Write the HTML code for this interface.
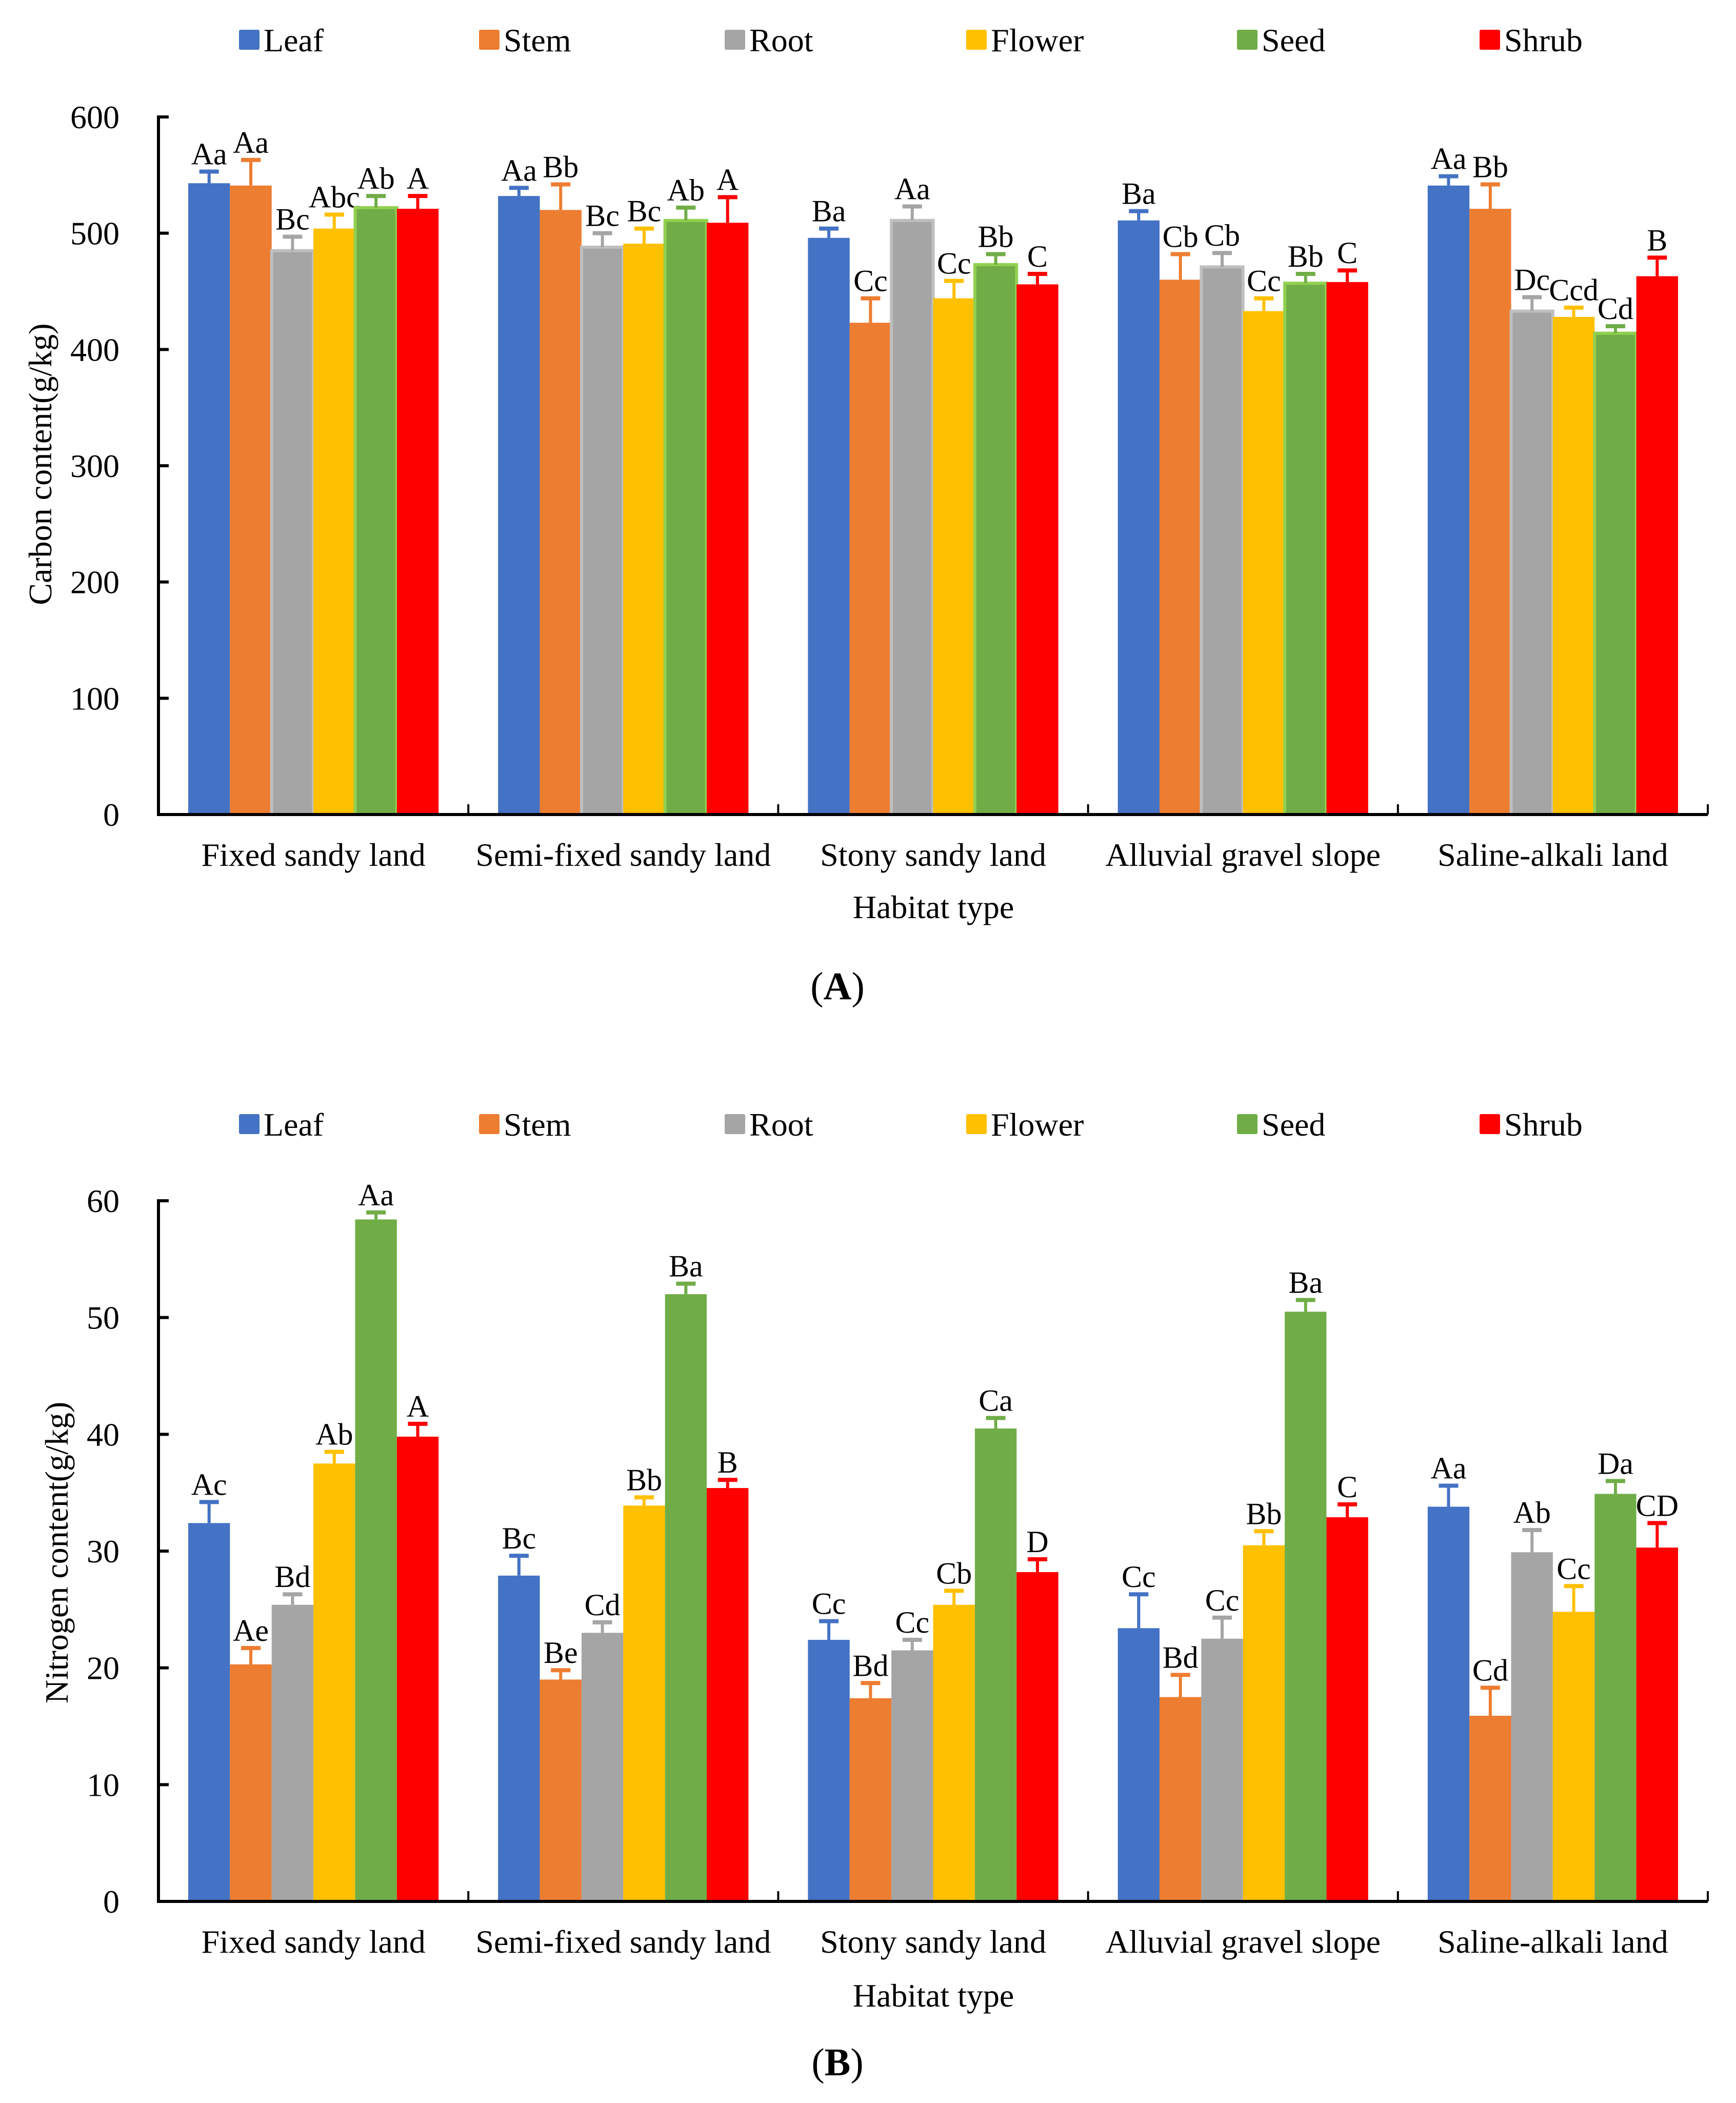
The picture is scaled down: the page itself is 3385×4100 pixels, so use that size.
<!DOCTYPE html>
<html><head><meta charset="utf-8"><style>
html,body{margin:0;padding:0;background:#fff}
svg{display:block}
text{font-family:"Liberation Serif","Times New Roman",serif;fill:#000}
</style></head><body>
<svg id="fig" width="3385" height="4100" viewBox="0 0 3385 4100" xmlns="http://www.w3.org/2000/svg"></svg>
<script>
const categories = ["Fixed sandy land","Semi-fixed sandy land","Stony sandy land","Alluvial gravel slope","Saline-alkali land"];
const seriesNames = ["Leaf","Stem","Root","Flower","Seed","Shrub"];
const seriesColors = ["#4472C4","#ED7D31","#A5A5A5","#FFC000","#70AD47","#FF0000"];
// Carbon (A)
const carbonLeaf = [543,532,496,511,541];
const carbonStem = [541,520,423,460,521];
const carbonRoot = [485,488,511,471,433];
const carbonFlower = [504,491,444,433,428];
const carbonSeed = [522,511,473,457,414];
const carbonShrub = [521,509,456,458,463];
const carbonErrLeaf = [10,7,8,8,8];
const carbonErrStem = [22,22,21,22,21];
const carbonErrRoot = [12,12,12,12,12];
const carbonErrFlower = [12,13,15,11,8];
const carbonErrSeed = [10,11,9,8,6];
const carbonErrShrub = [11,22,9,10,16];
const carbonLetters = [["Aa","Aa","Bc","Abc","Ab","A"],["Aa","Bb","Bc","Bc","Ab","A"],["Ba","Cc","Aa","Cc","Bb","C"],["Ba","Cb","Cb","Cc","Bb","C"],["Aa","Bb","Dc","Ccd","Cd","B"]];
const carbonTicks = [0,100,200,300,400,500,600];
// Nitrogen (B)
const nitroLeaf = [32.4,27.9,22.4,23.4,33.8];
const nitroStem = [20.3,19.0,17.4,17.5,15.9];
const nitroRoot = [25.4,23.0,21.5,22.5,29.9];
const nitroFlower = [37.5,33.9,25.4,30.5,24.8];
const nitroSeed = [58.4,52.0,40.5,50.5,34.9];
const nitroShrub = [39.8,35.4,28.2,32.9,30.3];
const nitroErrLeaf = [1.8,1.7,1.6,2.9,1.8];
const nitroErrStem = [1.4,0.8,1.3,1.9,2.4];
const nitroErrRoot = [0.9,0.9,0.9,1.8,1.9];
const nitroErrFlower = [1.0,0.7,1.2,1.2,2.2];
const nitroErrSeed = [0.6,0.9,0.9,1.0,1.1];
const nitroErrShrub = [1.1,0.7,1.1,1.1,2.1];
const nitroLetters = [["Ac","Ae","Bd","Ab","Aa","A"],["Bc","Be","Cd","Bb","Ba","B"],["Cc","Bd","Cc","Cb","Ca","D"],["Cc","Bd","Cc","Bb","Ba","C"],["Aa","Cd","Ab","Cc","Da","CD"]];
const nitroTicks = [0,10,20,30,40,50,60];

const NS="http://www.w3.org/2000/svg";
const svg=document.getElementById('fig');
function mk(tag,attrs,parent){const e=document.createElementNS(NS,tag);for(const k in attrs)e.setAttribute(k,attrs[k]);(parent||svg).appendChild(e);return e;}

function drawChart(opt){
  const g=mk('g',{});
  
  
  const x0=309,x1=3330,yBase=opt.yBase,yTop=opt.yTop,max=opt.ticks[opt.ticks.length-1];
  const yS=v=>yBase-(v/max)*(yBase-yTop);
  const gw=(x1-x0)/categories.length, margin=58, bw=(gw-2*margin)/seriesNames.length;
  const xS=(c,s)=>x0+c*gw+margin+s*bw;
  // legend
  const legX=[466,934,1413,1884,2412,2885];
  seriesNames.forEach((n,i)=>{
    const lg=mk('g',{},g);
    
    
    mk('rect',{x:legX[i],y:opt.legY-20,width:40,height:39,fill:seriesColors[i],rx:3},lg);
    const t=mk('text',{x:legX[i]+48,y:opt.legY+22,'font-size':64},lg);t.textContent=n;
  });
  // bars
  opt.vals.forEach((arr,s)=>{
    arr.forEach((v,c)=>{
      const x=xS(c,s),y=yS(v);
      const r=mk('rect',{x:x,y:y,width:bw,height:yBase-y,fill:seriesColors[s]},g);
      if(opt.outline&&opt.outline[s]){r.setAttribute('stroke',opt.outline[s]);r.setAttribute('stroke-width',6);}
      
      
      const et=yS(v+opt.errs[s][c]), cx=x+bw/2;
      const eb=mk('g',{},g);
      
      
      mk('line',{x1:cx,y1:y,x2:cx,y2:et,stroke:seriesColors[s],'stroke-width':6},eb);
      mk('line',{x1:cx-19,y1:et,x2:cx+19,y2:et,stroke:seriesColors[s],'stroke-width':8},eb);
      const t=mk('text',{x:cx,y:et-14,'font-size':60,'text-anchor':'middle'},g);
      t.textContent=opt.letters[c][s];
      
      
    });
  });
  // axes
  const ax=mk('g',{},g);
  
  
  mk('line',{x1:x0,y1:yTop-3,x2:x0,y2:yBase+3,stroke:'#000','stroke-width':6},ax);
  mk('line',{x1:x0-3,y1:yBase,x2:x1,y2:yBase,stroke:'#000','stroke-width':6},ax);
  opt.ticks.forEach(v=>{
    const y=yS(v);
    mk('line',{x1:x0,y1:y,x2:x0+20,y2:y,stroke:'#000','stroke-width':6},ax);
    const t=mk('text',{x:233,y:y+22,'font-size':64,'text-anchor':'end'},ax);t.textContent=v;
    
    
  });
  for(let c=1;c<=categories.length;c++){
    const x=x0+c*gw;
    mk('line',{x1:x,y1:yBase,x2:x,y2:yBase-20,stroke:'#000','stroke-width':4},ax);
  }
  categories.forEach((n,c)=>{
    const t=mk('text',{x:x0+c*gw+gw/2,y:opt.catY,'font-size':64,'text-anchor':'middle'},g);t.textContent=n;
    
    
  });
  const xt=mk('text',{x:1820,y:opt.xTitleY,'font-size':64,'text-anchor':'middle'},g);xt.textContent='Habitat type';
  
  
  const yt=mk('text',{x:opt.yTitleX,y:opt.yTitleY,'font-size':64,'text-anchor':'middle',transform:`rotate(-90 ${opt.yTitleX} ${opt.yTitleY})`},g);yt.textContent=opt.yTitle;
  
  
  const pl=mk('text',{x:1633,y:opt.panelY,'font-size':76,'text-anchor':'middle'},g);
  pl.innerHTML='(<tspan font-weight="bold">'+opt.panel+'</tspan>)';
  
  
}

drawChart({name:'carbon-chart',yBase:1588,yTop:228,ticks:carbonTicks,legY:78,catY:1688,xTitleY:1790,yTitleX:100,yTitleY:905,yTitle:'Carbon content(g/kg)',panel:'A',panelY:1948,
  vals:[carbonLeaf,carbonStem,carbonRoot,carbonFlower,carbonSeed,carbonShrub],
  errs:[carbonErrLeaf,carbonErrStem,carbonErrRoot,carbonErrFlower,carbonErrSeed,carbonErrShrub],
  letters:carbonLetters,outline:[null,null,'#BFBFBF',null,'#92D050',null]});
drawChart({name:'nitrogen-chart',yBase:3707,yTop:2341,ticks:nitroTicks,legY:2192,catY:3807,xTitleY:3912,yTitleX:132,yTitleY:3027,yTitle:'Nitrogen content(g/kg)',panel:'B',panelY:4046,
  vals:[nitroLeaf,nitroStem,nitroRoot,nitroFlower,nitroSeed,nitroShrub],
  errs:[nitroErrLeaf,nitroErrStem,nitroErrRoot,nitroErrFlower,nitroErrSeed,nitroErrShrub],
  letters:nitroLetters});
</script>
</body></html>
